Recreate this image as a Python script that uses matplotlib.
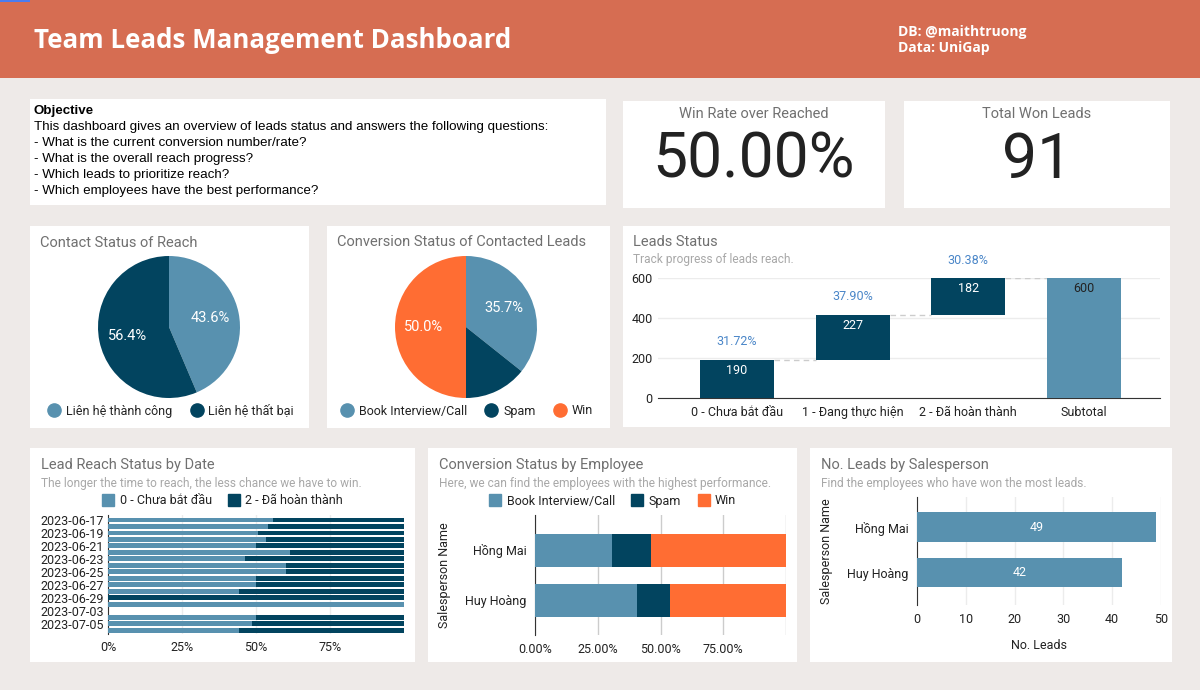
import matplotlib
matplotlib.use('Agg')
import matplotlib.pyplot as plt
from matplotlib.patches import Rectangle
from matplotlib.lines import Line2D
import numpy as np

# ---------------- data ----------------
header_title = 'Team Leads Management Dashboard'
header_credits = ['DB: @maithtruong', 'Data: UniGap']

objective_title = 'Objective'
objective_lines = [
    'This dashboard gives an overview of leads status and answers the following questions:',
    '- What is the current conversion number/rate?',
    '- What is the overall reach progress?',
    '- Which leads to prioritize reach?',
    '- Which employees have the best performance?',
]

win_rate = 50.00
total_won = 91

contact_labels = ['Liên hệ thành công', 'Liên hệ thất bại']
contact_values = [43.6, 56.4]

conv_labels = ['Book Interview/Call', 'Spam', 'Win']
conv_values = [35.7, 14.3, 50.0]

status_labels = ['0 - Chưa bắt đầu', '1 - Đang thực hiện', '2 - Đã hoàn thành']
status_counts = [190, 227, 182]
status_pct = [31.72, 37.90, 30.38]
subtotal_label = 'Subtotal'
subtotal_value = 600

reach_dates = ['2023-06-17', '2023-06-18', '2023-06-19', '2023-06-20', '2023-06-21',
               '2023-06-22', '2023-06-23', '2023-06-24', '2023-06-25', '2023-06-26',
               '2023-06-27', '2023-06-28', '2023-06-29', '2023-06-30', '2023-07-03',
               '2023-07-04', '2023-07-05', '2023-07-06']
reach_not_started = [55.6, 54.0, 50.6, 53.3, 50.0, 61.5, 46.2, 60.0, 60.0, 50.0,
                     50.0, 44.4, 0.0, 100.0, 0.0, 50.0, 48.6, 44.4]
reach_completed = [44.4, 46.0, 49.4, 46.7, 50.0, 38.5, 53.8, 40.0, 40.0, 50.0,
                   50.0, 55.6, 100.0, 0.0, 0.0, 50.0, 51.4, 55.6]
reach_series = ['0 - Chưa bắt đầu', '2 - Đã hoàn thành']

emp_names = ['Hồng Mai', 'Huy Hoàng']
emp_book = [30.7, 40.6]
emp_spam = [15.5, 13.2]
emp_win = [53.8, 46.2]

won_names = ['Hồng Mai', 'Huy Hoàng']
won_counts = [49, 42]

# ---------------- style ----------------
BG = '#eeeae8'
HEADER = '#d66d52'
LIGHT = '#5891af'
DARK = '#02445f'
ORANGE = '#ff6d33'
PCT_BLUE = '#4a86c8'
TITLE_GRAY = '#707070'
SUB_GRAY = '#a8a8a8'
TXT = '#222222'
GRID = '#ececec'
FONT = 'Roboto'

plt.rcParams['font.family'] = [FONT, 'DejaVu Sans']

W, H = 1200, 690
fig = plt.figure(figsize=(12, 6.9), dpi=100)
fig.patch.set_facecolor(BG)


def rect(x0, y0, x1, y1):
    return [x0 / W, 1 - y1 / H, (x1 - x0) / W, (y1 - y0) / H]


bg = fig.add_axes([0, 0, 1, 1])
bg.set_xlim(0, W)
bg.set_ylim(H, 0)
bg.axis('off')

# header
bg.add_patch(Rectangle((0, 0), W, 78, fc=HEADER, ec='none'))
bg.add_patch(Rectangle((0, 0), 30, 2, fc='#4a7cf0', ec='none'))
bg.text(34, 41, header_title, color='white', fontsize=18.6, fontweight='bold',
        family='Open Sans', va='center', ha='left')
bg.text(898, 32, header_credits[0], color='white', fontsize=10, fontweight='bold',
        family='Open Sans', va='center')
bg.text(898, 48, header_credits[1], color='white', fontsize=10, fontweight='bold',
        family='Open Sans', va='center')

panels = [(30, 99, 606, 205), (623, 101, 885, 208), (904, 101, 1170, 208),
          (30, 226, 309, 428), (327, 226, 610, 428), (623, 226, 1170, 427),
          (30, 448, 415, 662), (428, 448, 797, 662), (810, 448, 1172, 662)]
for x0, y0, x1, y1 in panels:
    bg.add_patch(Rectangle((x0, y0), x1 - x0, y1 - y0, fc='white', ec='none'))

# objective text
bg.text(34, 111, objective_title, fontsize=9.6, fontweight='bold', family='Liberation Sans',
        color='black', va='center')
for i, line in enumerate(objective_lines):
    bg.text(34, 127 + 16 * i, line, fontsize=9.6, family='Liberation Sans',
            color='black', va='center')

# KPIs
bg.text(754, 114, 'Win Rate over Reached', fontsize=10.5, color=TITLE_GRAY, ha='center', va='center')
bg.text(754, 161, f'{win_rate:.2f}%', fontsize=45, color=TXT, ha='center', va='center')
bg.text(1037, 114, 'Total Won Leads', fontsize=10.5, color=TITLE_GRAY, ha='center', va='center')
bg.text(1037, 161, f'{total_won}', fontsize=45, color=TXT, ha='center', va='center')

# panel titles
titles = [(40, 243, 'Contact Status of Reach', None),
          (337, 242, 'Conversion Status of Contacted Leads', None),
          (633, 242, 'Leads Status', 'Track progress of leads reach.'),
          (41, 465, 'Lead Reach Status by Date', 'The longer the time to reach, the less chance we have to win.'),
          (439, 465, 'Conversion Status by Employee', 'Here, we can find the employees with the highest performance.'),
          (821, 465, 'No. Leads by Salesperson', 'Find the employees who have won the most leads.')]
for x, y, t, s in titles:
    bg.text(x, y, t, fontsize=10.5, color=TITLE_GRAY, va='center')
    if s:
        bg.text(x, y + 18, s, fontsize=8.6, color=SUB_GRAY, va='center')


def circle_legend(labels, colors, cx, cy, marker='o', size=9.5):
    handles = [Line2D([], [], marker=marker, ls='none', markersize=size,
                      markerfacecolor=c, markeredgecolor=c) for c in colors]
    fig.legend(handles, labels, loc='center', bbox_to_anchor=(cx / W, 1 - cy / H),
               ncol=len(labels), frameon=False, fontsize=9, handletextpad=0.3,
               columnspacing=1.3, labelcolor=TXT, borderpad=0, handlelength=1.3)


# pies
def pie(cx, cy, r, vals, cols):
    ax = fig.add_axes(rect(cx - r, cy - r, cx + r, cy + r))
    ax.pie(vals, colors=cols, startangle=90, counterclock=False, radius=1,
           autopct=lambda p: f'{p:.1f}%' if p > 20 else '', pctdistance=0.6,
           textprops=dict(color='white', fontsize=10.5),
           wedgeprops=dict(linewidth=0))
    ax.set_xlim(-1, 1)
    ax.set_ylim(-1, 1)
    ax.set_aspect('equal')
    return ax


pie(169, 327, 71, contact_values, [LIGHT, DARK])
circle_legend(contact_labels, [LIGHT, DARK], 170, 411)
pie(466, 327, 71, conv_values, [LIGHT, DARK, ORANGE])
circle_legend(conv_labels, [LIGHT, DARK, ORANGE], 466, 411)

# waterfall
ax = fig.add_axes(rect(658, 278, 1160, 398))
xs = np.arange(len(status_counts))
bottoms = np.concatenate([[0], np.cumsum(status_counts)[:-1]])
bw = 0.64
ax.bar(xs, status_counts, bottom=bottoms, width=bw, color=DARK, zorder=3)
ax.bar(len(xs), subtotal_value, width=bw, color=LIGHT, zorder=3)
tops = bottoms + np.array(status_counts)
for i in range(len(xs)):
    ax.annotate(f'{status_counts[i]}', (i, tops[i]), xytext=(0, -7.5), textcoords='offset points',
                ha='center', va='center', color='white', fontsize=9)
    ax.annotate(f'{status_pct[i]:.2f}%', (i, tops[i]), xytext=(0, 13), textcoords='offset points',
                ha='center', va='center', color=PCT_BLUE, fontsize=9, annotation_clip=False)
    nxt_x = i + 1
    ax.plot([i + bw / 2, nxt_x - bw / 2], [tops[i], tops[i]], ls=(0, (4, 3)), color='#cccccc',
            lw=1, zorder=2)
ax.annotate(f'{subtotal_value}', (len(xs), subtotal_value), xytext=(0, -7.5), textcoords='offset points',
            ha='center', va='center', color=TXT, fontsize=9)
ax.set_xlim(-0.684, 3.66)
ax.set_ylim(0, 600)
ax.set_yticks([0, 200, 400, 600])
ax.set_xticks(list(xs) + [len(xs)])
ax.set_xticklabels(status_labels + [subtotal_label])
ax.grid(axis='y', color=GRID, lw=1, zorder=0)
ax.set_axisbelow(True)
for s in ['top', 'right', 'left']:
    ax.spines[s].set_visible(False)
ax.spines['bottom'].set_color('#333333')
ax.tick_params(length=0, labelsize=9, colors=TXT, pad=6)
ax.tick_params(axis='y', pad=4)

# lead reach by date
ax = fig.add_axes(rect(108, 515, 404, 634))
ys = np.arange(len(reach_dates))
ax.barh(ys, reach_not_started, height=0.75, color=LIGHT, zorder=3)
ax.barh(ys, reach_completed, left=reach_not_started, height=0.75, color=DARK, zorder=3)
ax.set_xlim(0, 100)
ax.set_ylim(len(reach_dates) - 0.4, -0.77)
ax.set_yticks(ys[::2])
ax.set_yticklabels(reach_dates[::2])
ax.set_xticks([0, 25, 50, 75, 100])
ax.set_xticklabels(['0%', '25%', '50%', '75%', ''])
ax.grid(axis='x', color=GRID, lw=1, zorder=0)
for s in ['top', 'right', 'bottom']:
    ax.spines[s].set_visible(False)
ax.spines['left'].set_color('#333333')
ax.tick_params(length=0, labelsize=9, colors=TXT, pad=3)
ax.tick_params(axis='x', pad=5)
handles = [Line2D([], [], marker='s', ls='none', markersize=9, markerfacecolor=c, markeredgecolor=c)
           for c in [LIGHT, DARK]]
fig.legend(handles, reach_series, loc='center', bbox_to_anchor=(222 / W, 1 - 501 / H), ncol=2,
           frameon=False, fontsize=9, handletextpad=0.3, columnspacing=1.2, labelcolor=TXT,
           borderpad=0, handlelength=1.2)

# conversion by employee
ax = fig.add_axes(rect(535, 515, 786, 635))
ys = np.arange(len(emp_names))
left = np.zeros(len(emp_names))
for vals, c in [(emp_book, LIGHT), (emp_spam, DARK), (emp_win, ORANGE)]:
    ax.barh(ys, vals, left=left, height=0.66, color=c, zorder=3)
    left += np.array(vals)
ax.set_xlim(0, 100)
ax.set_ylim(1.7, -0.7)
ax.set_yticks(ys)
ax.set_yticklabels(emp_names)
ax.set_xticks([0, 25, 50, 75, 100])
ax.set_xticklabels(['0.00%', '25.00%', '50.00%', '75.00%', ''])
ax.grid(axis='x', color='#cccccc', lw=1, zorder=0)
for s in ['top', 'right', 'bottom']:
    ax.spines[s].set_visible(False)
ax.spines['left'].set_color('#333333')
ax.tick_params(length=0, labelsize=9, colors=TXT, pad=6)
ax.set_ylabel('Salesperson Name', fontsize=9, color=TXT, labelpad=10)
handles = [Line2D([], [], marker='s', ls='none', markersize=9, markerfacecolor=c, markeredgecolor=c)
           for c in [LIGHT, DARK, ORANGE]]
fig.legend(handles, conv_labels, loc='center', bbox_to_anchor=(612 / W, 1 - 501 / H), ncol=3,
           frameon=False, fontsize=9, handletextpad=0.3, columnspacing=1.2, labelcolor=TXT,
           borderpad=0, handlelength=1.2)

# no. leads by salesperson
ax = fig.add_axes(rect(917, 497, 1161, 605))
ys = np.arange(len(won_names))
bars = ax.barh(ys, won_counts, height=0.65, color=LIGHT, zorder=3)
for y, v in zip(ys, won_counts):
    ax.text(v / 2, y, f'{v}', color='white', ha='center', va='center', fontsize=9)
ax.set_xlim(0, 50)
ax.set_ylim(1.71, -0.66)
ax.set_yticks(ys)
ax.set_yticklabels(won_names)
ax.set_xticks([0, 10, 20, 30, 40, 50])
ax.grid(axis='x', color=GRID, lw=1, zorder=0)
for s in ['top', 'right', 'bottom']:
    ax.spines[s].set_visible(False)
ax.spines['left'].set_color('#333333')
ax.tick_params(length=0, labelsize=9, colors=TXT, pad=6)
ax.set_xlabel('No. Leads', fontsize=9, color=TXT, labelpad=9)
ax.set_ylabel('Salesperson Name', fontsize=9, color=TXT, labelpad=10)

fig.savefig('out.png', dpi=100, facecolor=BG)
